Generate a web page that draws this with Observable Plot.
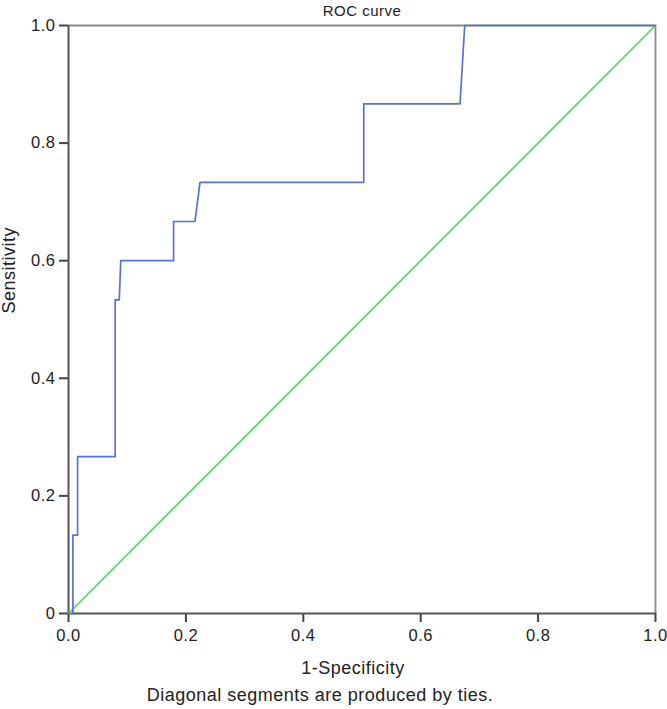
<!DOCTYPE html>
<html>
<head>
<meta charset="utf-8">
<script src="https://cdn.jsdelivr.net/npm/d3@7"></script>
<script src="https://cdn.jsdelivr.net/npm/@observablehq/plot@0.6"></script>
<style>
  html, body { margin: 0; padding: 0; background: #fff; }
  #chart svg { display: block; }
  #chart svg text { letter-spacing: 0.5px; }
  #chart svg g[aria-label$="tick label"] { font-size: 16.5px; letter-spacing: 0.2px; }
</style>
</head>
<body>
<div id="chart"></div>
<script>
// ROC curve points (1-Specificity, Sensitivity)
const fpr = [0, 0.0075, 0.0075, 0.0155, 0.0155, 0.0795, 0.0795, 0.0865, 0.089, 0.179, 0.179, 0.2155, 0.224, 0.503, 0.503, 0.667, 0.675, 1];
const tpr = [0, 0, 0.1333, 0.1333, 0.2667, 0.2667, 0.5333, 0.5333, 0.6, 0.6, 0.6667, 0.6667, 0.7333, 0.7333, 0.8667, 0.8667, 1, 1];
// Reference (chance) line
const refX = [0, 1];
const refY = [0, 1];
// Ticks
const xTicks = [0, 0.2, 0.4, 0.6, 0.8, 1.0];
const yTicks = [0, 0.2, 0.4, 0.6, 0.8, 1.0];
const yTickLabels = ["0", "0.2", "0.4", "0.6", "0.8", "1.0"];
const xTickLabels = ["0.0", "0.2", "0.4", "0.6", "0.8", "1.0"];
const titleText = "ROC curve";
const xLabel = "1-Specificity";
const yLabel = "Sensitivity";
const captionText = "Diagonal segments are produced by ties.";

const curve = fpr.map((x, i) => ({x, y: tpr[i]}));
const ref = refX.map((x, i) => ({x, y: refY[i]}));

const font = "'Liberation Sans', Arial, Helvetica, sans-serif";

const chart = Plot.plot({
  width: 667,
  height: 709,
  marginLeft: 68,
  marginRight: 12,
  marginTop: 25,
  marginBottom: 96,
  style: {fontFamily: font, fontSize: "17px", color: "#222", background: "#fff"},
  x: {domain: [0, 1]},
  y: {domain: [0, 1]},
  marks: [
    Plot.axisX({ticks: xTicks, tickFormat: (d) => xTickLabels[xTicks.indexOf(d)], tickSize: 9, tickPadding: 7, stroke: "#444", strokeWidth: 2, label: null, fill: "#222"}),
    Plot.axisY({ticks: yTicks, tickFormat: (d) => yTickLabels[yTicks.indexOf(d)], tickSize: 9, tickPadding: 4, stroke: "#444", strokeWidth: 2, label: null, fill: "#222"}),
    Plot.ruleY([1], {stroke: "#8a8a8a", strokeWidth: 1.8}),
    Plot.ruleX([1], {stroke: "#8a8a8a", strokeWidth: 1.8}),
    Plot.ruleX([0], {stroke: "#555", strokeWidth: 2}),
    Plot.ruleY([0], {stroke: "#555", strokeWidth: 2}),
    Plot.line(ref, {x: "x", y: "y", stroke: "#4fd86a", strokeWidth: 1.7}),
    Plot.line(curve, {x: "x", y: "y", stroke: "#5672d8", strokeWidth: 1.7}),
    Plot.text([titleText], {frameAnchor: "top", dy: -14, text: d => d, fontSize: 15, fill: "#222", lineAnchor: "middle"}),
    Plot.text([xLabel], {frameAnchor: "bottom", dx: -9, dy: 55, text: d => d, fontSize: 18, fill: "#222", lineAnchor: "middle"}),
    Plot.text([captionText], {frameAnchor: "bottom", dx: -42, dy: 82, text: d => d, fontSize: 18, fill: "#222", lineAnchor: "middle"}),
    Plot.text([yLabel], {frameAnchor: "left", dx: -59, dy: -6, rotate: -90, text: d => d, fontSize: 18, fill: "#222", lineAnchor: "middle"})
  ]
});
document.getElementById("chart").appendChild(chart);
</script>
</body>
</html>
